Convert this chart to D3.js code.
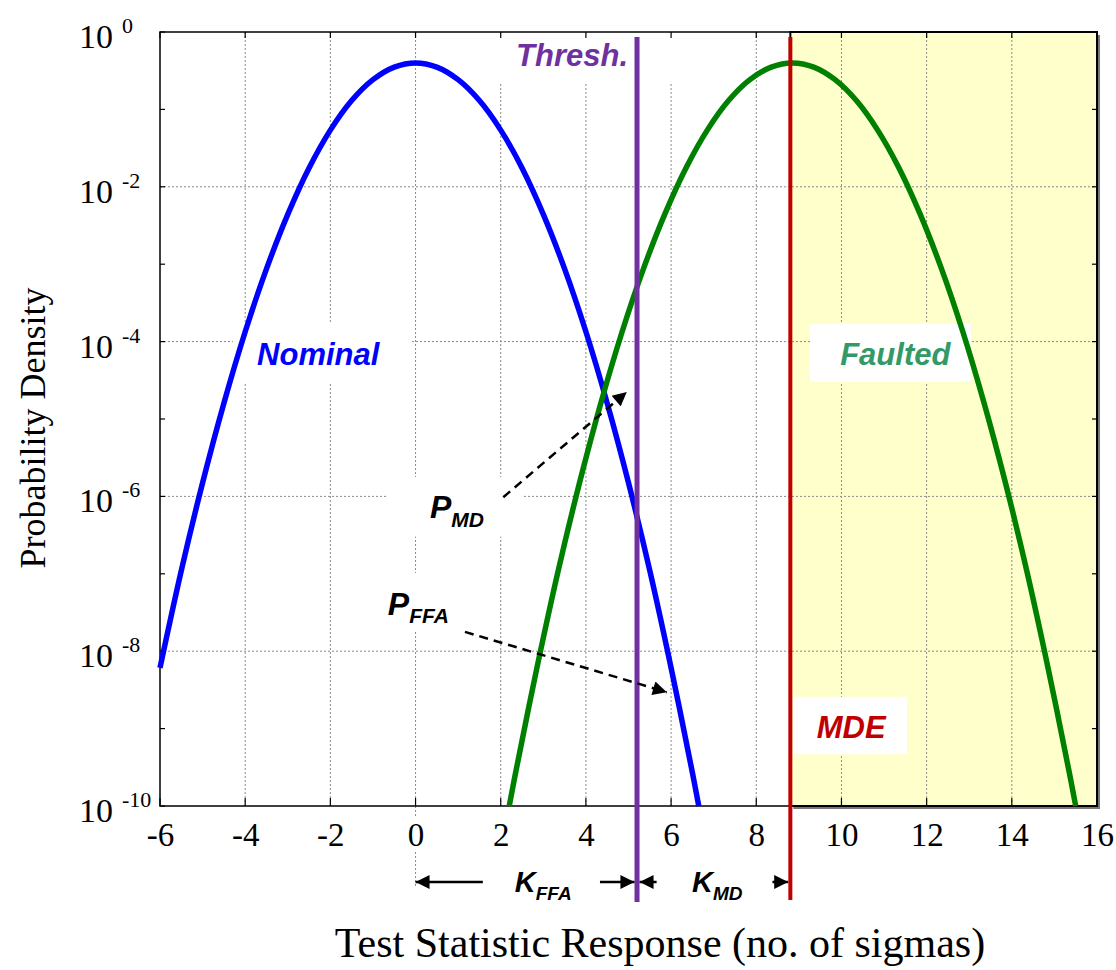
<!DOCTYPE html>
<meta charset="utf-8">
<style>
body { margin: 0; background: #fff; }
.grid line { stroke: #8a8a8a; stroke-width: 1; stroke-dasharray: 2,2; }
.lbl { font-family: "Liberation Sans", Arial, sans-serif; font-weight: bold; font-style: italic; }
.serif { font-family: "Liberation Serif", "Times New Roman", serif; fill: #000; }
</style>
<svg width="1116" height="970"></svg>
<script src="https://d3js.org/d3.v7.min.js"></script>
<script>

var svg = d3.select("svg");

// ---- data ----
var xTicks = [-6, -4, -2, 0, 2, 4, 6, 8, 10, 12, 14, 16];
var yDecades = [0, -2, -4, -6, -8, -10];
var yMinorDecades = [-1, -3, -5, -7, -9];

var nominalX = [-6, -5.5, -5, -4.5, -4, -3.5, -3, -2.5, -2, -1.5, -1, -0.5, 0,
  0.5, 1, 1.5, 2, 2.5, 3, 3.5, 4, 4.5, 5, 5.5, 6, 6.5, 6.65];
var nominalP = [6.1e-9, 1.1e-7, 1.5e-6, 1.6e-5, 1.34e-4, 8.7e-4, 4.4e-3, 1.75e-2, 0.054, 0.13, 0.242, 0.352, 0.399,
  0.352, 0.242, 0.13, 0.054, 1.75e-2, 4.4e-3, 8.7e-4, 1.34e-4, 1.6e-5, 1.5e-6, 1.1e-7, 6.1e-9, 2.7e-10, 1.0e-10];

var faultedX = [2.2, 2.35, 2.85, 3.35, 3.85, 4.35, 4.85, 5.35, 5.85, 6.35, 6.85, 7.35, 7.85, 8.35, 8.85,
  9.35, 9.85, 10.35, 10.85, 11.35, 11.85, 12.35, 12.85, 13.35, 13.85, 14.35, 14.85, 15.35, 15.5];
var faultedP = [1.0e-10, 2.7e-10, 6.1e-9, 1.1e-7, 1.5e-6, 1.6e-5, 1.34e-4, 8.7e-4, 4.4e-3, 1.75e-2, 0.054, 0.13, 0.242, 0.352, 0.399,
  0.352, 0.242, 0.13, 0.054, 1.75e-2, 4.4e-3, 8.7e-4, 1.34e-4, 1.6e-5, 1.5e-6, 1.1e-7, 6.1e-9, 2.7e-10, 1.0e-10];

var thresh = 5.2, mde = 8.8;

// ---- scales ----
var x = d3.scaleLinear().domain([-6, 16]).range([160, 1097]);
var y = d3.scaleLog().domain([1e-10, 1]).range([806, 32]);
var L = x.range()[0], R = x.range()[1], T = y.range()[1], B = y.range()[0];
function yl(e) { return y(Math.pow(10, e)); }

// faulted (detection) region
svg.append("rect")
    .attr("x", x(mde) + 3).attr("y", T + 3)
    .attr("width", R - x(mde)).attr("height", B - T)
    .attr("fill", "#777");
svg.append("rect")
    .attr("x", x(mde)).attr("y", T)
    .attr("width", R - x(mde)).attr("height", B - T)
    .attr("fill", "#ffffcc").attr("stroke", "#000").attr("stroke-width", 2);

// grid
var grid = svg.append("g").attr("class", "grid");
grid.selectAll(".v").data(xTicks.slice(1, -1)).enter().append("line")
    .attr("x1", function(d) { return x(d); }).attr("x2", function(d) { return x(d); })
    .attr("y1", T).attr("y2", B);
grid.selectAll(".h").data(yDecades.slice(1, -1)).enter().append("line")
    .attr("x1", L).attr("x2", R)
    .attr("y1", function(d) { return yl(d); }).attr("y2", function(d) { return yl(d); });

// dotted extension of x = 0 down to the K arrows
grid.append("line").attr("x1", x(0)).attr("x2", x(0)).attr("y1", B).attr("y2", B + 12);
grid.append("line").attr("x1", x(0)).attr("x2", x(0)).attr("y1", B + 46).attr("y2", B + 80);

// white boxes behind the labels (in data units)
var boxes = [
  [1.16, 6.14, 0.05, -0.66],
  [-4.29, -0.13, -3.76, -4.53],
  [9.26, 13.04, -3.77, -4.52],
  [8.86, 11.54, -8.59, -9.33],
  [-0.65, 2.52, -5.75, -6.52],
  [-0.95, 1.28, -6.99, -7.75]
];
svg.selectAll(".box").data(boxes).enter().append("rect")
    .attr("x", function(d) { return x(d[0]); })
    .attr("width", function(d) { return x(d[1]) - x(d[0]); })
    .attr("y", function(d) { return Math.max(T - 2, yl(d[2])); })
    .attr("height", function(d) { return yl(d[3]) - Math.max(T - 2, yl(d[2])); })
    .attr("fill", "#fff");

// frame
svg.append("rect")
    .attr("x", L).attr("y", T).attr("width", R - L).attr("height", B - T)
    .attr("fill", "none").attr("stroke", "#000").attr("stroke-width", 1.5);

// ticks
var tk = svg.append("g").attr("stroke", "#000").attr("stroke-width", 1.2);
var allDec = yDecades.concat(yMinorDecades);
tk.selectAll(".tl").data(allDec).enter().append("line")
    .attr("x1", L).attr("x2", L + 5)
    .attr("y1", function(d) { return yl(d); }).attr("y2", function(d) { return yl(d); });
tk.selectAll(".tr").data(allDec).enter().append("line")
    .attr("x1", R).attr("x2", R - 5)
    .attr("y1", function(d) { return yl(d); }).attr("y2", function(d) { return yl(d); });
tk.selectAll(".tb").data(xTicks).enter().append("line")
    .attr("x1", function(d) { return x(d); }).attr("x2", function(d) { return x(d); })
    .attr("y1", B).attr("y2", B - 8);
tk.selectAll(".tt").data(xTicks).enter().append("line")
    .attr("x1", function(d) { return x(d); }).attr("x2", function(d) { return x(d); })
    .attr("y1", T).attr("y2", T + 6);

// x tick labels
svg.append("g")
    .attr("transform", "translate(0," + B + ")")
    .call(d3.axisBottom(x).tickValues(xTicks).tickSize(0).tickPadding(17)
      .tickFormat(function(d) { return String(d); }))
    .call(function(g) { g.select(".domain").remove(); })
    .selectAll("text")
    .attr("class", "serif")
    .attr("font-size", 33);

// y tick labels 10^n
var yt = svg.append("g");
yt.selectAll(".b").data(yDecades).enter().append("text")
    .attr("class", "serif")
    .attr("x", L - 47).attr("y", function(d) { return yl(d) + 16; })
    .attr("text-anchor", "end").attr("font-size", 34)
    .text("10");
yt.selectAll(".e").data(yDecades).enter().append("text")
    .attr("class", "serif")
    .attr("x", L - 38).attr("y", function(d) { return yl(d) + 1; })
    .attr("font-size", 22)
    .text(function(d) { return d; });

// curves
var line = d3.line()
    .x(function(d) { return x(d[0]); })
    .y(function(d) { return y(d[1]); })
    .curve(d3.curveCatmullRom);
svg.append("path")
    .datum(d3.zip(nominalX, nominalP))
    .attr("d", line).attr("fill", "none")
    .attr("stroke", "#0000ff").attr("stroke-width", 5.5);
svg.append("path")
    .datum(d3.zip(faultedX, faultedP))
    .attr("d", line).attr("fill", "none")
    .attr("stroke", "#008000").attr("stroke-width", 5.5);

// threshold and MDE lines
svg.append("line")
    .attr("x1", x(thresh)).attr("x2", x(thresh)).attr("y1", T + 5).attr("y2", B + 96)
    .attr("stroke", "#7030a0").attr("stroke-width", 5);
svg.append("line")
    .attr("x1", x(mde)).attr("x2", x(mde)).attr("y1", T + 5).attr("y2", B + 94)
    .attr("stroke", "#c00000").attr("stroke-width", 4);

// labels
svg.append("text").attr("class", "lbl")
    .attr("x", x(4.99)).attr("y", yl(-0.44)).attr("text-anchor", "end")
    .attr("font-size", 31).attr("fill", "#7030a0").text("Thresh.");
svg.append("text").attr("class", "lbl")
    .attr("x", x(-3.72)).attr("y", yl(-4.30))
    .attr("font-size", 31).attr("fill", "#0000ff").text("Nominal");
svg.append("text").attr("class", "lbl")
    .attr("x", x(9.97)).attr("y", yl(-4.30))
    .attr("font-size", 31).attr("fill", "#339966").text("Faulted");
svg.append("text").attr("class", "lbl")
    .attr("x", x(9.42)).attr("y", yl(-9.12))
    .attr("font-size", 31).attr("fill", "#c00000").text("MDE");

function subLabel(px, py, main, sub, size, subSize, shift) {
  var t = svg.append("text").attr("class", "lbl")
      .attr("x", px).attr("y", py).attr("fill", "#000");
  t.append("tspan").attr("font-size", size).text(main);
  t.append("tspan").attr("font-size", subSize).attr("dy", shift).text(sub);
}
subLabel(x(0.34), yl(-6.28), "P", "MD", 32, 21, 9);
subLabel(x(-0.65), yl(-7.53), "P", "FFA", 32, 21, 8);
subLabel(x(2.33), B + 86, "K", "FFA", 29, 19, 8);
subLabel(x(6.49), B + 86, "K", "MD", 29, 19, 8);

// arrows
var defs = svg.append("defs");
defs.append("marker")
    .attr("id", "head").attr("viewBox", "0 0 10 10")
    .attr("refX", 10).attr("refY", 5)
    .attr("markerWidth", 16).attr("markerHeight", 14)
    .attr("markerUnits", "userSpaceOnUse")
    .attr("orient", "auto")
  .append("path").attr("d", "M0,0L10,5L0,10Z").attr("fill", "#000");

var dashed = [
  [2.06, -6.01, 4.96, -4.65],
  [1.16, -7.75, 5.90, -8.53]
];
svg.selectAll(".da").data(dashed).enter().append("line")
    .attr("x1", function(d) { return x(d[0]); }).attr("y1", function(d) { return yl(d[1]); })
    .attr("x2", function(d) { return x(d[2]); }).attr("y2", function(d) { return yl(d[3]); })
    .attr("stroke", "#000").attr("stroke-width", 2.5).attr("stroke-dasharray", "9,6")
    .attr("marker-end", "url(#head)");

var kArrows = [
  [1.58, 0],
  [4.33, thresh - 0.06],
  [5.66, thresh + 0.06],
  [8.38, mde - 0.05]
];
svg.selectAll(".ka").data(kArrows).enter().append("line")
    .attr("x1", function(d) { return x(d[0]); }).attr("x2", function(d) { return x(d[1]); })
    .attr("y1", B + 76).attr("y2", B + 76)
    .attr("stroke", "#000").attr("stroke-width", 2.5)
    .attr("marker-end", "url(#head)");

// axis titles
svg.append("text").attr("class", "serif")
    .attr("x", 660).attr("y", 957).attr("text-anchor", "middle")
    .attr("font-size", 42).text("Test Statistic Response (no. of sigmas)");
svg.append("text").attr("class", "serif")
    .attr("transform", "translate(45,428) rotate(-90)")
    .attr("text-anchor", "middle")
    .attr("font-size", 36).text("Probability Density");
</script>
